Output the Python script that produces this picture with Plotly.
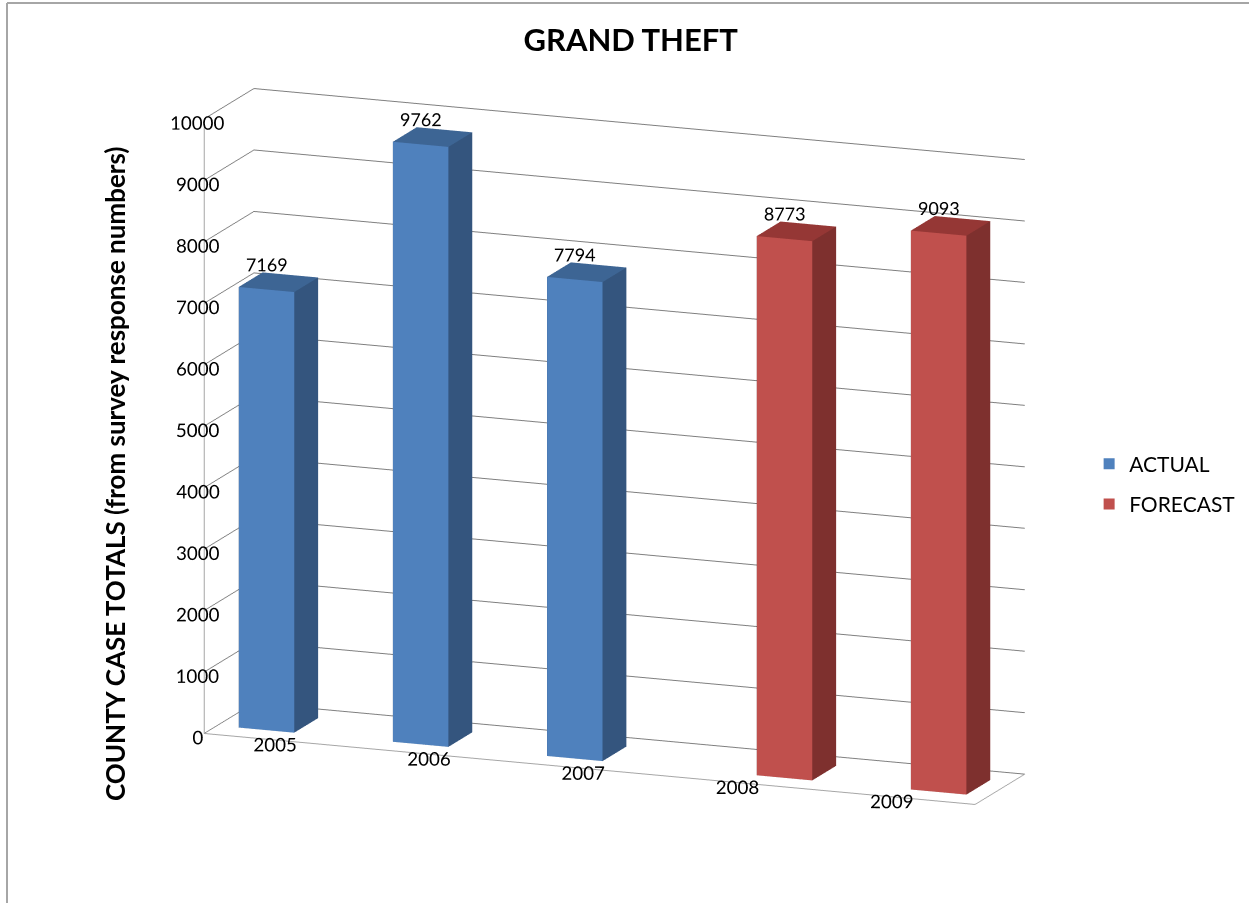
import plotly.graph_objects as go

# Category labels and series values
years = ["2005", "2006", "2007", "2008", "2009"]
actual = [7169, 9762, 7794, None, None]
forecast = [None, None, None, 8773, 9093]
value_ticks = list(range(0, 10001, 1000))

series_names = ["ACTUAL", "FORECAST"]
# (front, side, top) face colours per series
series_colors = {
    "ACTUAL": ("#4F81BD", "#34557E", "#3D6594"),
    "FORECAST": ("#C0504D", "#7E302E", "#953735"),
}

BAR_W = 0.36          # width of one bar in category units
Y0, Y1 = 0.26, 0.74   # bar depth inside the floor (0..1)
FONT = "Lato"


def bar_mesh(values, offset, colors, name):
    xs, ys, zs, ii, jj, kk, fc = [], [], [], [], [], [], []
    front, side, top = colors
    for idx, v in enumerate(values):
        if v is None:
            continue
        cx = idx + offset
        x0, x1 = cx - BAR_W / 2, cx + BAR_W / 2
        b = len(xs)
        corners = [
            (x0, Y0, 0), (x1, Y0, 0), (x1, Y1, 0), (x0, Y1, 0),
            (x0, Y0, v), (x1, Y0, v), (x1, Y1, v), (x0, Y1, v),
        ]
        for (px, py, pz) in corners:
            xs.append(px); ys.append(py); zs.append(pz)
        faces = [
            ((0, 1, 5), front), ((0, 5, 4), front),
            ((1, 2, 6), side), ((1, 6, 5), side),
            ((4, 5, 6), top), ((4, 6, 7), top),
            ((3, 2, 6), side), ((3, 6, 7), side),
            ((0, 3, 7), side), ((0, 7, 4), side),
            ((0, 1, 2), side), ((0, 2, 3), side),
        ]
        for (a, c, d), col in faces:
            ii.append(b + a); jj.append(b + c); kk.append(b + d); fc.append(col)
    return go.Mesh3d(
        x=xs, y=ys, z=zs, i=ii, j=jj, k=kk, facecolor=fc,
        flatshading=True,
        lighting=dict(ambient=1.0, diffuse=0.0, specular=0.0, roughness=1.0, fresnel=0.0),
        hoverinfo="skip", name=name, showlegend=False,
    )


def bar_labels(values, offset):
    xs, ys, zs, tx = [], [], [], []
    for idx, v in enumerate(values):
        if v is None:
            continue
        xs.append(idx + offset); ys.append(Y0); zs.append(v); tx.append(str(v))
    return go.Scatter3d(
        x=xs, y=ys, z=zs, text=tx, mode="text", textposition="top center",
        textfont=dict(family=FONT, size=18, color="#000000"),
        hoverinfo="skip", showlegend=False,
    )


fig = go.Figure()
fig.add_trace(bar_mesh(actual, -BAR_W / 2, series_colors["ACTUAL"], "ACTUAL"))
fig.add_trace(bar_mesh(forecast, BAR_W / 2, series_colors["FORECAST"], "FORECAST"))
fig.add_trace(bar_labels(actual, -BAR_W / 2))
fig.add_trace(bar_labels(forecast, BAR_W / 2))

# Legend entries
for i, name in enumerate(series_names):
    fig.add_trace(go.Scatter(
        x=[None], y=[None], mode="markers", name=name, legendgroup=name,
        marker=dict(symbol="square", size=11, color=series_colors[name][0]),
        showlegend=True,
    ))

axis_common = dict(
    showspikes=False, backgroundcolor="#FFFFFF", showbackground=True,
    color="#000000",
)

fig.update_layout(
    width=1249, height=903,
    margin=dict(l=0, r=0, t=0, b=0),
    paper_bgcolor="#FFFFFF", plot_bgcolor="#FFFFFF",
    font=dict(family=FONT, color="#000000"),
    title=dict(text="<b>GRAND THEFT</b>", x=0.505, xanchor="center",
               y=0.955, yanchor="middle", font=dict(family=FONT, size=31, color="#000000")),
    xaxis=dict(visible=False), yaxis=dict(visible=False),
    showlegend=True,
    legend=dict(x=0.872, y=0.464, xanchor="left", yanchor="middle",
                font=dict(family=FONT, size=21, color="#000000"),
                tracegroupgap=10, itemclick=False, bgcolor="rgba(0,0,0,0)"),
    scene=dict(
        domain=dict(x=[0.09, 0.895], y=[0.047, 0.963]),
        xaxis=dict(axis_common, range=[-0.5, 4.5], tickvals=list(range(len(years))),
                   ticktext=years, showgrid=False, zeroline=False, title=dict(text=""),
                   tickfont=dict(family=FONT, size=15, color="#000000"), tickangle=0,
                   showline=True, linecolor="#A6A6A6", linewidth=2, ticks=""),
        yaxis=dict(axis_common, range=[0, 1], showticklabels=False, showgrid=False,
                   zeroline=False, title=dict(text=""), showline=True,
                   linecolor="#A6A6A6", linewidth=2, ticks=""),
        zaxis=dict(axis_common, range=[0, 10000], tickvals=value_ticks,
                   ticktext=[str(t) for t in value_ticks],
                   showgrid=True, gridcolor="#7F7F7F", gridwidth=2, zeroline=False,
                   title=dict(text=""), tickfont=dict(family=FONT, size=15, color="#000000"),
                   tickangle=0,
                   showline=True, linecolor="#A6A6A6", linewidth=2, ticks=""),
        aspectmode="manual", aspectratio=dict(x=2.0, y=0.332, z=1.53),
        camera=dict(eye=dict(x=0.88, y=-2.265, z=0.593), center=dict(x=0, y=0, z=0),
                    up=dict(x=0, y=0, z=1), projection=dict(type="orthographic")),
        dragmode=False,
    ),
    annotations=[dict(
        text="<b>COUNTY CASE TOTALS (from survey response numbers)</b>",
        x=97 / 1249, y=1 - 474 / 903, xref="paper", yref="paper",
        textangle=-90, showarrow=False, font=dict(family=FONT, size=26, color="#000000"),
    )],
    shapes=[
        dict(type="line", xref="paper", yref="paper", x0=7 / 1249, x1=7 / 1249,
             y0=0, y1=1 - 3 / 903, line=dict(color="#A6A6A6", width=2)),
        dict(type="line", xref="paper", yref="paper", x0=7 / 1249, x1=1,
             y0=1 - 3 / 903, y1=1 - 3 / 903, line=dict(color="#A6A6A6", width=2)),
    ],
)

fig.write_html("out.html")
